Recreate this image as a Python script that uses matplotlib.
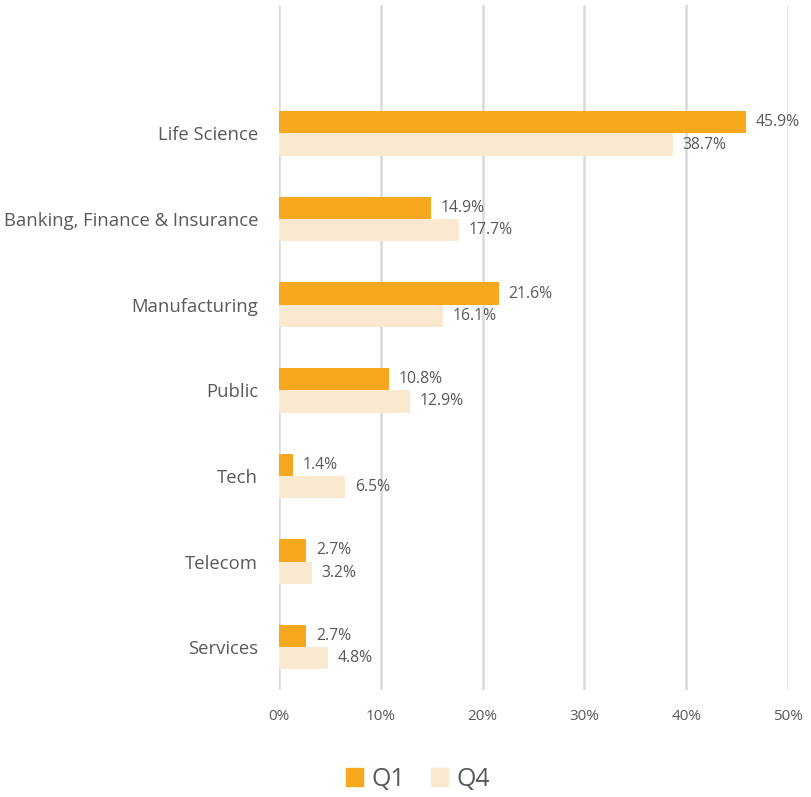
import matplotlib
matplotlib.use('Agg')
import matplotlib.pyplot as plt
from matplotlib.patches import Patch
from matplotlib.ticker import FuncFormatter

categories = ["Life Science", "Banking, Finance & Insurance", "Manufacturing",
              "Public", "Tech", "Telecom", "Services"]
q1 = [45.9, 14.9, 21.6, 10.8, 1.4, 2.7, 2.7]
q4 = [38.7, 17.7, 16.1, 12.9, 6.5, 3.2, 4.8]
series_names = ["Q1", "Q4"]

C_Q1 = '#F8A81D'
C_Q4 = '#FAE8D1'
TXT = '#595959'

plt.rcParams['font.family'] = ['Open Sans', 'DejaVu Sans']

fig = plt.figure(figsize=(8.12, 7.97), dpi=100)
ax = fig.add_axes([0.3436, 0.1343, 0.6268, 0.8594])

n = len(categories)
ypos = [n - 1 - i for i in range(n)]
h = 0.26

ax.barh([y + h / 2 for y in ypos], q1, height=h, color=C_Q1, zorder=3)
ax.barh([y - h / 2 for y in ypos], q4, height=h, color=C_Q4, zorder=3)

# data labels right of each bar
for y, a, b in zip(ypos, q1, q4):
    ax.annotate(f'{a:.1f}%', (a, y + h / 2), xytext=(7, 0), textcoords='offset points',
                va='center', ha='left', fontsize=11.3, color=TXT)
    ax.annotate(f'{b:.1f}%', (b, y - h / 2), xytext=(7, 0), textcoords='offset points',
                va='center', ha='left', fontsize=11.3, color=TXT)

ax.set_xlim(0, 50)
ax.set_ylim(-0.5, n + 0.5)
ax.set_xticks(range(0, 51, 10))
ax.xaxis.set_major_formatter(FuncFormatter(lambda v, p: f'{v:.0f}%'))
ax.set_yticks(ypos)
ax.set_yticklabels(categories)
ax.tick_params(axis='y', length=0, pad=15, labelsize=13.3, labelcolor=TXT)
ax.tick_params(axis='x', length=0, pad=14, labelsize=11, labelcolor=TXT)
ax.grid(axis='x', color='#D9D9D9', linewidth=1.8, zorder=0)
for s in ax.spines.values():
    s.set_visible(False)

handles = [Patch(color=C_Q1), Patch(color=C_Q4)]
fig.legend(handles, series_names, loc='center', bbox_to_anchor=(0.515, 0.022),
           ncol=2, frameon=False, fontsize=18, handlelength=0.7, handleheight=0.7,
           handletextpad=0.35, columnspacing=1.0, labelcolor=TXT)

fig.savefig('out.png', dpi=100)
